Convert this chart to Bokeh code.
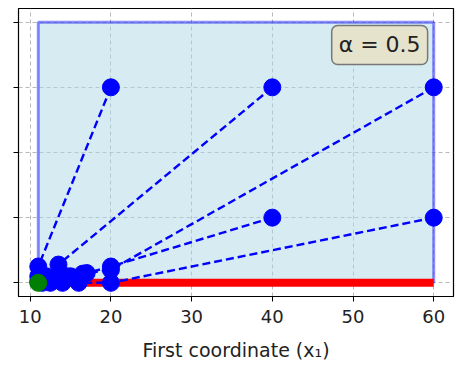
from bokeh.plotting import figure
from bokeh.models import Range1d, Label, FixedTicker, CustomLabelingPolicy
from bokeh.embed import file_html
from bokeh.resources import INLINE

# Feasible region and constraint
region_x = [11, 60]
region_y = [0, 4]
constraint_x = [11, 60]
constraint_y = [0, 0]
optimum_x = [11]
optimum_y = [0]

# Trajectories (start point followed by iterates)
traj_x = [
    [20, 11.0, 11.0, 11.0],
    [40, 13.5, 12.0, 11.2],
    [60, 20.0, 16.5, 14.5, 13.0, 12.0],
    [40, 20.0, 17.0, 15.0, 13.0, 11.5],
    [60, 20.0, 16.0, 14.0, 12.5, 11.5],
]
traj_y = [
    [3, 0.25, 0.10, 0.02],
    [3, 0.28, 0.10, 0.02],
    [3, 0.20, 0.14, 0.10, 0.06, 0.03],
    [1, 0.25, 0.15, 0.10, 0.05, 0.02],
    [1, 0.00, 0.00, 0.00, 0.00, 0.00],
]

x_ticks = [10, 20, 30, 40, 50, 60]
y_ticks = [0, 1, 2, 3, 4]
x_label = "First coordinate (x\u2081)"
alpha_text = "\u03b1 = 0.5"

p = figure(width=465, height=367, output_backend="svg", toolbar_location=None,
           x_range=Range1d(8.55, 62.45), y_range=Range1d(-0.21, 4.21),
           min_border_left=18, min_border_right=12, min_border_top=8, min_border_bottom=71)
p.background_fill_color = "white"
p.outline_line_color = "black"
p.outline_line_width = 1.2

# grid
for g in (p.xgrid, p.ygrid):
    g.grid_line_color = "#a8a8a8"
    g.grid_line_dash = "4 3"
    g.grid_line_alpha = 0.8
p.xaxis.ticker = FixedTicker(ticks=x_ticks)
p.yaxis.ticker = FixedTicker(ticks=y_ticks)
p.xgrid.ticker = FixedTicker(ticks=x_ticks)
p.ygrid.ticker = FixedTicker(ticks=y_ticks)

for ax in (p.xaxis, p.yaxis):
    ax.major_tick_out = 5
    ax.major_tick_in = 0
    ax.minor_tick_line_color = None
    ax.axis_line_color = "black"
    ax.major_tick_line_color = "black"
    ax.major_label_text_font = "DejaVu Sans"
    ax.major_label_text_color = "#222222"
p.xaxis.major_label_text_font_size = "18px"
p.yaxis.major_label_policy = CustomLabelingPolicy(code="return new Set()")
p.yaxis.major_label_standoff = 0
p.xaxis.axis_label = x_label
p.xaxis.axis_label_text_font = "DejaVu Sans"
p.xaxis.axis_label_text_font_size = "19px"
p.xaxis.axis_label_text_font_style = "normal"
p.xaxis.axis_label_text_color = "#222222"
p.xaxis.major_label_standoff = 8
p.xaxis.axis_label_standoff = 13

# region
p.quad(left=region_x[0], right=region_x[1], bottom=region_y[0], top=region_y[1],
       fill_color="#add8e6", fill_alpha=0.5, line_color="blue", line_alpha=0.45, line_width=3)
# constraint line
p.line(constraint_x, constraint_y, line_color="red", line_width=8)
# trajectories
p.multi_line(traj_x, traj_y, line_color="blue", line_width=2.4, line_dash="8 4")
for xs, ys in zip(traj_x, traj_y):
    p.scatter(xs, ys, size=17, color="blue")
# optimum
p.scatter(optimum_x, optimum_y, size=17, color="green")

lab = Label(x=53.3, y=3.65, text=alpha_text, text_align="center", text_baseline="middle",
            text_font="DejaVu Sans", text_font_size="22px", text_color="#222222",
            background_fill_color="#e6e3cc", background_fill_alpha=1.0,
            border_line_color="#777777", border_line_width=1.5, border_radius=6, padding=7)
p.add_layout(lab)

open("out.html", "w").write(file_html(p, INLINE))
